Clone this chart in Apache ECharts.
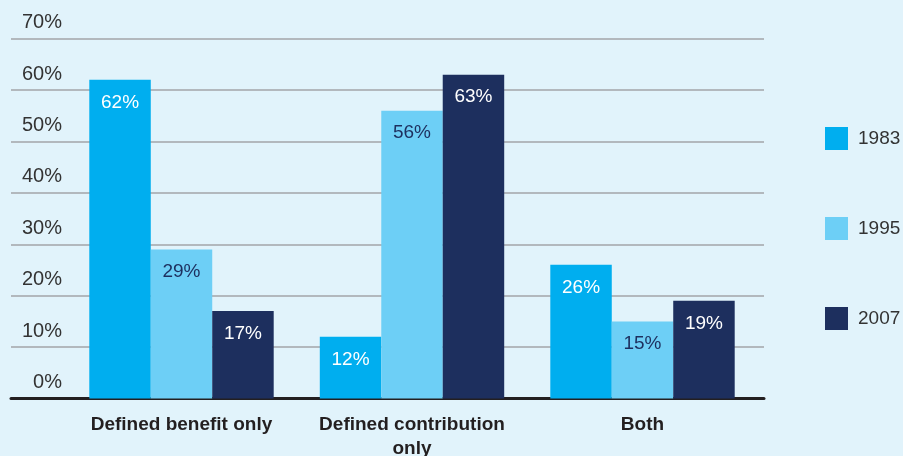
<!DOCTYPE html>
<html>
<head>
<meta charset="utf-8">
<script src="https://cdn.jsdelivr.net/npm/echarts@6/dist/echarts.min.js"></script>
<style>
html,body{margin:0;padding:0;background:#e1f3fb;}
#c{width:903px;height:456px;}
</style>
</head>
<body>
<div id="c"></div>
<script>
const categories = ['Defined benefit only', 'Defined contribution\nonly', 'Both'];
const seriesNames = ['1983', '1995', '2007'];
const v1983 = [62, 12, 26];
const v1995 = [29, 56, 15];
const v2007 = [17, 63, 19];
const yMin = 0, yMax = 70, yStep = 10;

const colors = ['#00aeef', '#6dcff6', '#1d2f5e'];
const labelColors = ['#ffffff', '#1d2f5e', '#ffffff'];
const values = [v1983, v1995, v2007];
const font = '"Liberation Sans", Arial, sans-serif';

const chart = echarts.init(document.getElementById('c'), null, {renderer: 'canvas'});
const gridTop = 38.7, gridBottom = 456 - 398.5;

chart.setOption({
  backgroundColor: '#e1f3fb',
  animation: false,
  textStyle: {fontFamily: font},
  grid: [
    {left: 66.25, right: 145.25, top: gridTop, bottom: gridBottom, outerBoundsMode: 'none', containLabel: false},
    {left: 11, right: 139, top: gridTop, bottom: gridBottom, outerBoundsMode: 'none', containLabel: false}
  ],
  legend: {
    orient: 'vertical',
    left: 820, top: 122,
    itemWidth: 23, itemHeight: 23, itemGap: 67,
    icon: 'rect',
    textStyle: {fontSize: 19, color: '#333333', fontFamily: font, padding: [0, 0, 0, 5]},
    data: seriesNames
  },
  xAxis: [
    {
      type: 'category', gridIndex: 0, data: categories,
      axisLine: {show: false}, axisTick: {show: false},
      axisLabel: {interval: 0, hideOverlap: false, fontSize: 19, fontWeight: 'bold', color: '#231f20', margin: 14, lineHeight: 24, fontFamily: font}
    },
    {
      type: 'value', gridIndex: 1, min: 0, max: 1,
      axisLine: {show: true, onZero: false, lineStyle: {color: '#231f20', width: 3}},
      axisTick: {show: false}, axisLabel: {show: false}, splitLine: {show: false}
    }
  ],
  yAxis: [
    {
      type: 'value', gridIndex: 0, min: yMin, max: yMax, interval: yStep,
      axisLine: {show: false}, axisTick: {show: false}, axisLabel: {show: false}, splitLine: {show: false}
    },
    {
      type: 'value', gridIndex: 1, min: yMin, max: yMax, interval: yStep,
      axisLine: {show: false}, axisTick: {show: false},
      splitLine: {show: true, lineStyle: {color: '#a2a5a8', width: 1.5}},
      axisLabel: {
        inside: true, align: 'right', margin: 51,
        verticalAlign: 'bottom', padding: [0, 0, 6, 0],
        fontSize: 20, color: '#333333', fontFamily: font,
        formatter: '{value}%'
      }
    }
  ],
  series: seriesNames.map((name, i) => ({
    name: name,
    type: 'bar',
    xAxisIndex: 0, yAxisIndex: 0,
    data: values[i],
    barGap: '0%',
    barCategoryGap: '20%',
    itemStyle: {color: colors[i]},
    label: {
      show: true, position: 'insideTop', distance: 13,
      formatter: '{c}%', fontSize: 19, color: labelColors[i], fontFamily: font
    }
  }))
});
</script>
</body>
</html>
